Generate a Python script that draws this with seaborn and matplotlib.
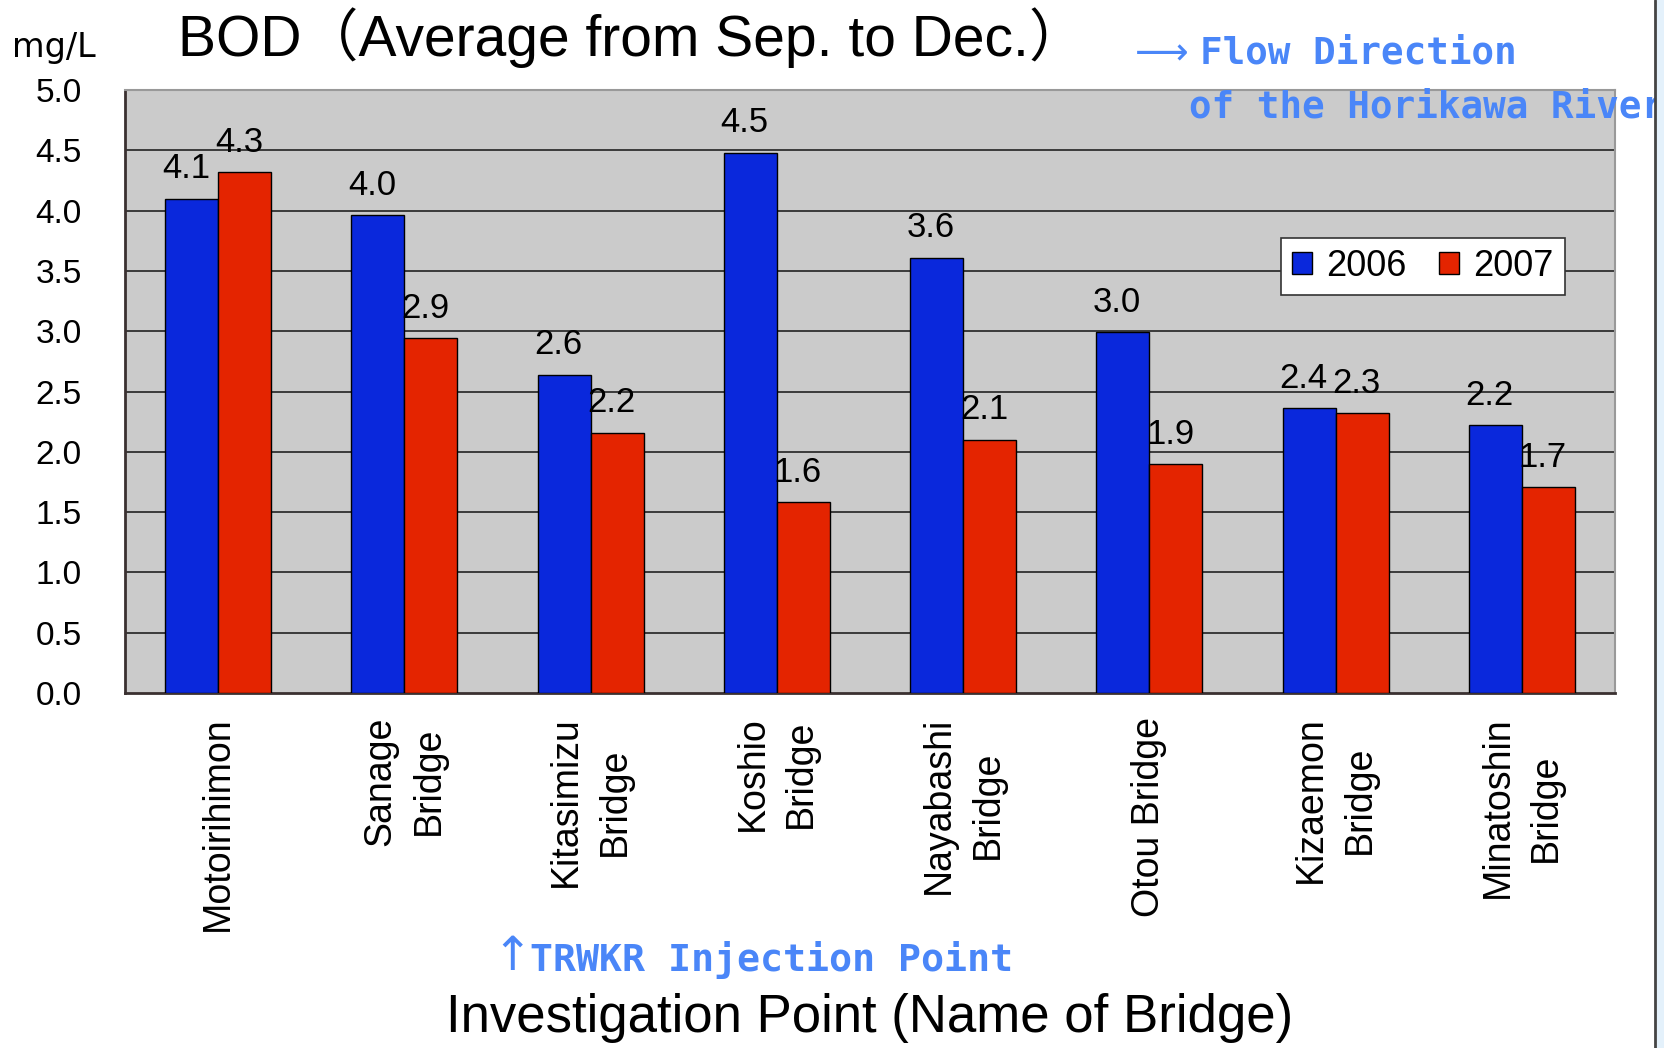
import matplotlib
matplotlib.use("Agg")
import matplotlib.pyplot as plt
import seaborn as sns
import pandas as pd
from matplotlib.patches import Rectangle
from matplotlib.lines import Line2D

# data (mg/L)
points = ["Motoirihimon", "Sanage\nBridge", "Kitasimizu\nBridge", "Koshio\nBridge",
          "Nayabashi\nBridge", "Otou Bridge", "Kizaemon\nBridge", "Minatoshin\nBridge"]
bod_2006 = [4.10, 3.96, 2.64, 4.48, 3.61, 2.99, 2.36, 2.22]
bod_2007 = [4.32, 2.94, 2.16, 1.58, 2.10, 1.90, 2.32, 1.71]
years = ["2006", "2007"]
yticks = [0.0, 0.5, 1.0, 1.5, 2.0, 2.5, 3.0, 3.5, 4.0, 4.5, 5.0]

df = pd.DataFrame({
    "point": points * 2,
    "year": [years[0]] * len(points) + [years[1]] * len(points),
    "bod": bod_2006 + bod_2007,
})

blue_txt = "#4a86f8"

sns.set_style("white")
plt.rcParams["font.family"] = ["Liberation Sans", "Noto Sans CJK JP", "DejaVu Sans"]
plt.rcParams["text.color"] = "black"
plt.rcParams["xtick.labelcolor"] = "black"
plt.rcParams["ytick.labelcolor"] = "black"

fig = plt.figure(figsize=(16.64, 10.48), dpi=100)
ax = fig.add_axes([125 / 1664, 1 - 693 / 1048, 1490 / 1664, 603 / 1048])
ax.set_facecolor("#cbcbcb")

sns.barplot(data=df, x="point", y="bod", hue="year", order=points, hue_order=years,
            palette=["#0a28dc", "#e42400"], width=0.57, edgecolor="black", linewidth=1,
            saturation=1, ax=ax, legend=True, zorder=3)

ax.set_xlim(-0.5, len(points) - 0.5)
ax.set_ylim(0, 5.0)
ax.set_yticks(yticks)
ax.set_yticklabels([f"{t:.1f}" for t in yticks], fontsize=24)
for t in yticks[1:]:
    ax.axhline(t, color="#222222", lw=1.2, zorder=1)

# value labels
for cont in ax.containers:
    for bar in cont:
        h = bar.get_height()
        ax.text(bar.get_x() + bar.get_width() / 2 - 0.03, h + 0.11, f"{h:.1f}",
                ha="center", va="bottom", fontsize=25, zorder=5)

ax.set_xticks(range(len(points)))
ax.set_xticklabels(points, rotation=90, fontsize=27, va="top", ha="center",
                   multialignment="center", linespacing=1.45)
ax.set_xticks([i + 0.5 for i in range(len(points) - 1)], minor=True)
ax.tick_params(axis="x", which="major", length=0, pad=17)
ax.tick_params(axis="x", which="minor", direction="in", length=10, width=1, color="#444444")
ax.tick_params(axis="y", which="major", direction="in", length=5, width=1, color="#3a2a2a", pad=31)
ax.set_xlabel("")
ax.set_ylabel("")

for s in ["left", "bottom"]:
    ax.spines[s].set_color("#3a3030")
    ax.spines[s].set_linewidth(2)
for s in ["top", "right"]:
    ax.spines[s].set_color("#999999")
    ax.spines[s].set_linewidth(1.5)

leg = ax.legend(loc="upper left", bbox_to_anchor=(1138 / 1490, 1 - 130 / 603), ncol=2,
                frameon=True, fancybox=False, fontsize=26, handlelength=0.55, handleheight=0.55,
                columnspacing=0.9, handletextpad=0.4, borderpad=0.3, framealpha=1)
leg.get_frame().set_edgecolor("#333333")
leg.get_frame().set_facecolor("white")
leg.get_frame().set_linewidth(1.2)
leg.set_zorder(6)

# titles and notes
fig.text(178 / 1664, 1 - 38 / 1048, "BOD（Average from Sep. to Dec.）", fontsize=41,
         va="center", ha="left")
fig.text(12 / 1664, 1 - 48 / 1048, "mg/L", fontsize=24, family="DejaVu Sans",
         va="center", ha="left")
fig.text(870 / 1664, 1 - 1018 / 1048, "Investigation Point (Name of Bridge)", fontsize=38,
         va="center", ha="center")
mono = ["DejaVu Sans Mono", "DejaVu Sans"]
fig.text(1135 / 1664, 1 - 54 / 1048, "⟶", fontsize=27, color=blue_txt,
         family="DejaVu Sans", va="center", ha="left")
fig.text(1200 / 1664, 1 - 54 / 1048, "Flow Direction", fontsize=27, color=blue_txt,
         family=mono, weight="bold", va="center", ha="left")
fig.text(1189 / 1664, 1 - 108 / 1048, "of the Horikawa River", fontsize=27, color=blue_txt,
         family=mono, weight="bold", va="center", ha="left", zorder=10)
fig.text(492 / 1664, 1 - 958 / 1048, "↑", fontsize=34, color=blue_txt,
         family="DejaVu Sans", va="center", ha="left")
fig.text(530 / 1664, 1 - 960 / 1048, "TRWKR Injection Point", fontsize=27.5, color=blue_txt,
         family=mono, weight="bold", va="center", ha="left")

# slide edge on the right
fig.add_artist(Rectangle((1656 / 1664, 0), 8 / 1664, 1, transform=fig.transFigure,
                         facecolor="#e4f1fb", edgecolor="none", zorder=20))
fig.add_artist(Line2D([1655 / 1664, 1655 / 1664], [0, 1], transform=fig.transFigure,
                      color="#444444", lw=2, zorder=21))

fig.savefig("out.png", dpi=100)
